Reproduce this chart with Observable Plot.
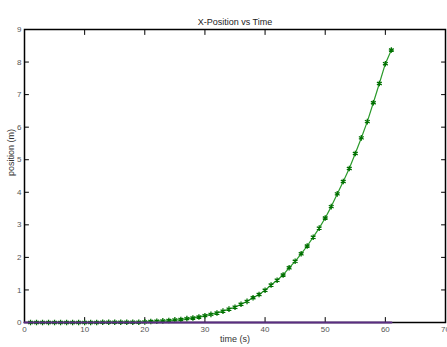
<!DOCTYPE html>
<html>
<head>
<meta charset="utf-8">
<script src="https://cdn.jsdelivr.net/npm/d3@7"></script>
<script src="https://cdn.jsdelivr.net/npm/@observablehq/plot@0.6"></script>
<style>
  html, body { margin: 0; padding: 0; background: #fff; }
</style>
</head>
<body>
<div id="chart"></div>
<script>
const time = d3.range(1, 62);
const xPosition = [
  0.00, 0.00, 0.00, 0.00, 0.00, 0.00, 0.00, 0.00, 0.00, 0.00,
  0.00, 0.00, 0.01, 0.01, 0.01, 0.01, 0.01, 0.01, 0.01, 0.02,
  0.03, 0.04, 0.05, 0.06, 0.08, 0.09, 0.12, 0.14, 0.17, 0.21,
  0.25, 0.29, 0.35, 0.41, 0.47, 0.56, 0.65, 0.76, 0.86, 0.99,
  1.15, 1.30, 1.46, 1.68, 1.88, 2.11, 2.35, 2.62, 2.90, 3.21,
  3.56, 3.95, 4.33, 4.73, 5.19, 5.67, 6.17, 6.75, 7.34, 7.95,
  8.37
];
const yTime = [0, 61];
const yPosition = [0, 0];
const xTicks = [0, 10, 20, 30, 40, 50, 60, 70];
const yTicks = [0, 1, 2, 3, 4, 5, 6, 7, 8, 9];
const title = "X-Position vs Time";
const xLabel = "time (s)";
const yLabel = "position (m)";

const green = time.map((t, i) => ({t, v: xPosition[i]}));
const purple = yTime.map((t, i) => ({t, v: yPosition[i]}));

const font = "'Liberation Sans Narrow', 'Liberation Sans', Arial, sans-serif";
const tickShape = {draw(context, l) { context.moveTo(0, 0); context.lineTo(0, -l); }};
const innerX = xTicks.slice(1, -1);
const innerY = yTicks.slice(1, -1);

const chart = Plot.plot({
  width: 447,
  height: 347,
  marginLeft: 24,
  marginRight: 2,
  marginTop: 29,
  marginBottom: 25,
  style: {fontFamily: font, fontSize: "8px", background: "#fff"},
  x: {domain: [0, 70], ticks: xTicks},
  y: {domain: [0, 9], ticks: yTicks},
  marks: [
    Plot.frame({stroke: "#000", strokeWidth: 1.5}),
    Plot.axisX(xTicks, {anchor: "bottom", tickSize: 0, tickPadding: 4, fill: "#555", label: null}),
    Plot.axisY(yTicks, {anchor: "left", tickSize: 0, tickPadding: 3, fill: "#555", label: null}),
    Plot.vector(innerX, {x: d => d, frameAnchor: "bottom", length: 5, rotate: 0, anchor: "start", shape: tickShape, stroke: "#000", strokeWidth: 1}),
    Plot.vector(innerX, {x: d => d, frameAnchor: "top", length: 5, rotate: 180, anchor: "start", shape: tickShape, stroke: "#000", strokeWidth: 1}),
    Plot.vector(innerY, {y: d => d, frameAnchor: "left", length: 4, rotate: 90, anchor: "start", shape: tickShape, stroke: "#000", strokeWidth: 1}),
    Plot.vector(innerY, {y: d => d, frameAnchor: "right", length: 4, rotate: -90, anchor: "start", shape: tickShape, stroke: "#000", strokeWidth: 1}),
    Plot.line(green, {x: "t", y: "v", stroke: "#2a9a2a", strokeWidth: 1.2}),
    Plot.dot(green, {x: "t", y: "v", symbol: "asterisk", r: 2.6, stroke: "#007000", strokeWidth: 1.3}),
    Plot.line(purple, {x: "t", y: "v", stroke: "#5a2d82", strokeWidth: 2.2}),
    Plot.text([title], {frameAnchor: "top", dy: -11, fontSize: 9, fill: "#222"}),
    Plot.text([xLabel], {frameAnchor: "bottom", dy: 19, fontSize: 9, fill: "#333"}),
    Plot.text([yLabel], {frameAnchor: "left", dx: -13, rotate: -90, fontSize: 9, fill: "#333", letterSpacing: "2px"})
  ]
});
document.getElementById("chart").appendChild(chart);
</script>
</body>
</html>
